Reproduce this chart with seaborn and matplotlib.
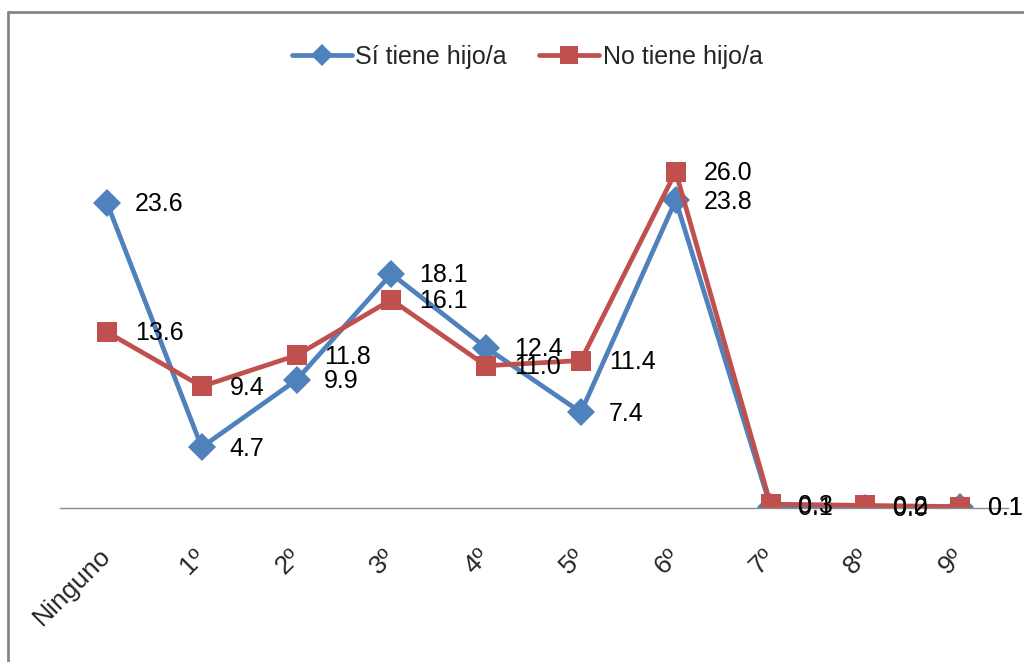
import numpy as np
import pandas as pd
import matplotlib
matplotlib.use("Agg")
import matplotlib.pyplot as plt
from matplotlib.lines import Line2D
import seaborn as sns

categorias = ["Ninguno", "1º", "2º", "3º", "4º", "5º", "6º", "7º", "8º", "9º"]
si_tiene = [23.6, 4.7, 9.9, 18.1, 12.4, 7.4, 23.8, 0.1, 0.0, 0.1]
no_tiene = [13.6, 9.4, 11.8, 16.1, 11.0, 11.4, 26.0, 0.3, 0.2, 0.1]
series = ["Sí tiene hijo/a", "No tiene hijo/a"]

azul = "#4F81BD"
rojo = "#C0504D"

sns.set_style("white")
plt.rcParams["font.family"] = ["Liberation Sans", "DejaVu Sans"]

pos = np.arange(len(categorias))
df = pd.DataFrame({
    "pos": np.concatenate([pos, pos]),
    "valor": si_tiene + no_tiene,
    "serie": [series[0]] * len(pos) + [series[1]] * len(pos),
})

fig = plt.figure(figsize=(10.24, 6.62), dpi=100)
ax = fig.add_axes([59.5 / 1024, 154 / 662, 948 / 1024, 388 / 662])

sns.lineplot(data=df, x="pos", y="valor", hue="serie", style="serie",
             palette={series[0]: azul, series[1]: rojo},
             markers={series[0]: "D", series[1]: "s"}, dashes=False,
             markersize=14, markeredgewidth=0, linewidth=3.4,
             sort=False, legend=False, ax=ax)

# etiquetas de datos a la derecha del punto
for s, vals in zip(series, [si_tiene, no_tiene]):
    for x, v in zip(pos, vals):
        ax.annotate("{:.1f}".format(v), (x, v), xytext=(20, -1),
                    textcoords="offset points", ha="left", va="center",
                    fontsize=18, color="black")

ax.set_xlim(-0.5, 9.5)
ax.set_ylim(0, 30)
ax.set_xlabel("")
ax.set_ylabel("")
ax.set_yticks([])
ax.set_xticks(pos)
ax.set_xticklabels(categorias, rotation=45, ha="right", va="center",
                   rotation_mode="anchor", fontsize=19)
ax.tick_params(axis="x", length=0, pad=32)
for lbl in ax.get_xticklabels():
    lbl.set_x(lbl.get_position()[0])
for sp in ["top", "right", "left"]:
    ax.spines[sp].set_visible(False)
ax.spines["bottom"].set_color("#8c8c8c")
ax.spines["bottom"].set_linewidth(1.0)
ax.patch.set_alpha(0)

handles = [Line2D([], [], color=azul, lw=3.4, marker="D", markersize=11, markeredgewidth=0),
           Line2D([], [], color=rojo, lw=3.4, marker="s", markersize=13, markeredgewidth=0)]
fig.legend(handles, series, loc="center", bbox_to_anchor=(0.515, 0.914), ncol=2,
           frameon=False, fontsize=18, handlelength=2.4, handletextpad=0.15,
           columnspacing=1.3)

# borde del área del gráfico
fig.add_artist(Line2D([8 / 1024, 8 / 1024], [0, 1 - 12 / 662], transform=fig.transFigure,
                      color="#868686", lw=2))
fig.add_artist(Line2D([8 / 1024, 1], [1 - 12 / 662, 1 - 12 / 662], transform=fig.transFigure,
                      color="#868686", lw=2))

fig.savefig("out.png", dpi=100)
